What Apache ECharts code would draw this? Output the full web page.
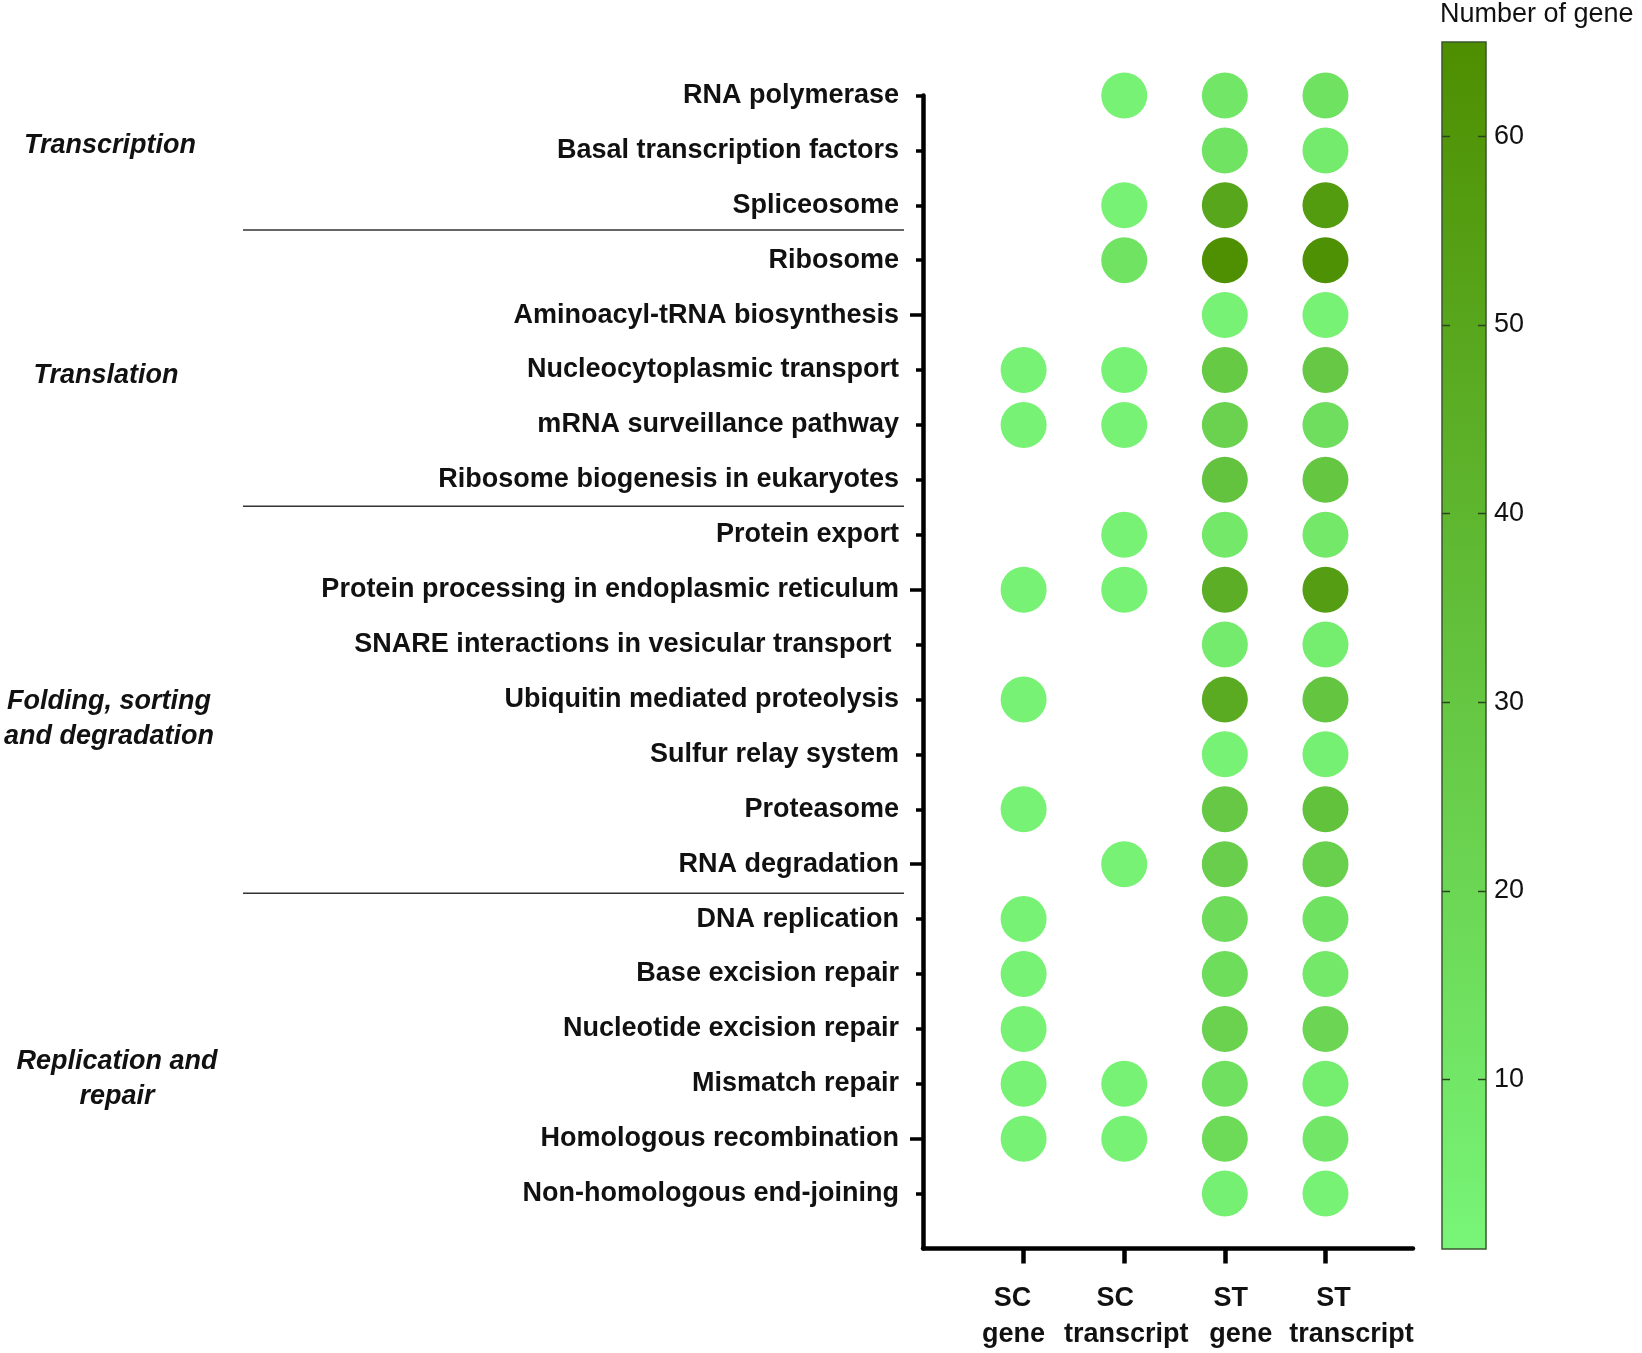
<!DOCTYPE html>
<html>
<head>
<meta charset="utf-8">
<script src="https://cdn.jsdelivr.net/npm/echarts@6.0.0/dist/echarts.min.js"></script>
<style>
  html, body { margin: 0; padding: 0; background: #ffffff; }
  #chart { width: 1642px; height: 1353px; }
</style>
</head>
<body>
<div id="chart"></div>
<script>
// ---------- data ----------
const categories = [
  'RNA polymerase',
  'Basal transcription factors',
  'Spliceosome',
  'Ribosome',
  'Aminoacyl-tRNA biosynthesis',
  'Nucleocytoplasmic transport',
  'mRNA surveillance pathway',
  'Ribosome biogenesis in eukaryotes',
  'Protein export',
  'Protein processing in endoplasmic reticulum',
  'SNARE interactions in vesicular transport ',
  'Ubiquitin mediated proteolysis',
  'Sulfur relay system',
  'Proteasome',
  'RNA degradation',
  'DNA replication',
  'Base excision repair',
  'Nucleotide excision repair',
  'Mismatch repair',
  'Homologous recombination',
  'Non-homologous end-joining'
];

const sampleTop = ['SC', 'SC', 'ST', 'ST'];
const sampleBottom = ['gene', 'transcript', 'gene', 'transcript'];

// number of genes per pathway (null = no dot)
const scGene       = [null, null, null, null, null, 3, 3, null, null, 3, null, 3, null, 3, null, 3, 3, 3, 3, 3, null];
const scTranscript = [3, null, 3, 12, null, 3, 3, null, 3, 3, null, null, null, null, 3, null, null, null, 3, 3, null];
const stGene       = [10, 12, 50, 64, 3, 28, 23, 32, 9, 45, 7, 47, 3, 29, 25, 17, 16, 23, 14, 18, 4];
const stTranscript = [13, 7, 57, 63, 3, 29, 15, 30, 9, 55, 6, 31, 4, 33, 24, 13, 9, 20, 6, 10, 3];

const groupLabels = [
  { text: 'Transcription', x: 110, y: 146 },
  { text: 'Translation', x: 106, y: 376 },
  { text: 'Folding, sorting\nand degradation', x: 109, y: 719 },
  { text: 'Replication and\nrepair', x: 117, y: 1079 }
];
const groupBreaks = [3.45, 8.48, 15.53];   // separator positions between row groups

const colorbarTicks = [10, 20, 30, 40, 50, 60];
const colorMin = 1, colorMax = 65;
const colorLow = '#78f578', colorHigh = '#4e8e00';

// ---------- build ----------
const seriesValues = [scGene, scTranscript, stGene, stTranscript];
const rowPositions = categories.map((_, i) => i + 1);
const majorRows = [5, 10, 15, 20];
const samplePositions = sampleTop.map((_, i) => i + 1);
// small horizontal nudges of the two label lines (as in the original figure)
const labelShift = [[-11, -10], [-9, 2], [6, 16], [8, 26]];

const FONT = "'Liberation Sans', Arial, Helvetica, sans-serif";
const CB_LEFT = 1442, CB_WIDTH = 44;

const series = seriesValues.map((vals, s) => ({
  type: 'scatter',
  name: sampleTop[s] + ' ' + sampleBottom[s],
  xAxisIndex: 0,
  yAxisIndex: 0,
  symbol: 'circle',
  symbolSize: 46,
  data: vals.map((v, r) => v == null ? null : [s + 1, r + 1, v]).filter(d => d),
  itemStyle: { opacity: 1 },
  emphasis: { disabled: true }
}));

const chart = echarts.init(document.getElementById('chart'), null, { renderer: 'canvas' });

const option = {
  backgroundColor: '#ffffff',
  animation: false,
  textStyle: { fontFamily: FONT },
  title: {
    text: 'Number of gene',
    left: 1440,
    top: 1,
    padding: 0,
    textStyle: { fontFamily: FONT, fontSize: 27, fontWeight: 'normal', color: '#111' }
  },
  grid: [
    { left: 923, top: 95.5, width: 490, height: 1153, containLabel: false },
    { left: CB_LEFT, top: 42, width: CB_WIDTH, height: 1207, containLabel: false }
  ],
  xAxis: [
    {
      gridIndex: 0, type: 'value', min: 0, max: 4.87, position: 'bottom',
      splitLine: { show: false },
      axisLine: { show: true, lineStyle: { color: '#000', width: 4.5 } },
      axisTick: { show: true, customValues: samplePositions, length: 15, lineStyle: { color: '#000', width: 4.5 } },
      axisLabel: { show: false }
    },
    {
      gridIndex: 1, type: 'value', min: 0, max: 1, position: 'bottom',
      splitLine: { show: false }, axisLine: { show: false }, axisTick: { show: false }, axisLabel: { show: false }
    }
  ],
  yAxis: [
    {
      gridIndex: 0, type: 'value', inverse: true, min: 1, max: 22, position: 'left',
      splitLine: { show: false },
      axisLine: { show: true, lineStyle: { color: '#000', width: 4.5 } },
      axisTick: { show: true, customValues: rowPositions, length: 7, lineStyle: { color: '#000', width: 3.5 } },
      axisLabel: {
        customValues: rowPositions,
        formatter: v => categories[Math.round(v) - 1] || '',
        fontFamily: FONT, fontSize: 27, fontWeight: 'bold', color: '#111', margin: 24
      }
    },
    {
      gridIndex: 0, type: 'value', inverse: true, min: 1, max: 22, position: 'left', offset: 0,
      splitLine: { show: false },
      axisLine: { show: false },
      axisTick: { show: true, customValues: majorRows, length: 13, lineStyle: { color: '#000', width: 3.5 } },
      axisLabel: { show: false }
    },
    {
      gridIndex: 1, type: 'value', min: colorMin, max: colorMax, position: 'right',
      splitLine: { show: false },
      axisLine: { show: false },
      axisTick: { show: false },
      axisLabel: {
        customValues: colorbarTicks,
        fontFamily: FONT, fontSize: 27, color: '#111', margin: 8
      }
    }
  ],
  visualMap: {
    type: 'continuous',
    show: false,
    min: colorMin,
    max: colorMax,
    dimension: 2,
    seriesIndex: [0, 1, 2, 3],
    inRange: { color: [colorLow, colorHigh] }
  },
  series: series
};

chart.setOption(option);

// colour bar, separators, group labels and sample labels
const graphics = [];
const cbTop = chart.convertToPixel({ yAxisIndex: 2 }, colorMax);
const cbBottom = chart.convertToPixel({ yAxisIndex: 2 }, colorMin);
const cbL = CB_LEFT, cbR = CB_LEFT + CB_WIDTH;
graphics.push({
  type: 'rect',
  z: 1,
  shape: { x: cbL, y: cbTop, width: CB_WIDTH, height: cbBottom - cbTop },
  style: {
    fill: new echarts.graphic.LinearGradient(0, 1, 0, 0, [
      { offset: 0, color: colorLow },
      { offset: 1, color: colorHigh }
    ]),
    stroke: '#3b5530',
    lineWidth: 1.5
  },
  silent: true
});
colorbarTicks.forEach(v => {
  const y = Math.round(chart.convertToPixel({ yAxisIndex: 2 }, v)) + 0.5;
  graphics.push({
    type: 'polyline', z: 5,
    shape: { points: [[cbL, y], [cbL + 8, y]] },
    style: { stroke: '#2a4420', lineWidth: 1.5 }, silent: true
  });
  graphics.push({
    type: 'polyline', z: 5,
    shape: { points: [[cbR - 8, y], [cbR, y]] },
    style: { stroke: '#2a4420', lineWidth: 1.5 }, silent: true
  });
});
groupBreaks.forEach(b => {
  const y = chart.convertToPixel({ yAxisIndex: 0 }, b);
  graphics.push({
    type: 'line',
    shape: { x1: 243, y1: y, x2: 904, y2: y },
    style: { stroke: '#333', lineWidth: 1.5 },
    silent: true
  });
});
groupLabels.forEach(g => {
  graphics.push({
    type: 'text',
    x: g.x,
    y: g.y,
    style: {
      text: g.text,
      font: 'italic bold 27px ' + FONT,
      fill: '#111',
      align: 'center',
      verticalAlign: 'middle',
      lineHeight: 35
    },
    silent: true
  });
});
samplePositions.forEach((p, i) => {
  const x = chart.convertToPixel({ xAxisIndex: 0 }, p);
  [[sampleTop[i], 1299, labelShift[i][0]], [sampleBottom[i], 1335, labelShift[i][1]]].forEach(([t, y, d]) => {
    graphics.push({
      type: 'text',
      x: x + d,
      y: y,
      style: {
        text: t,
        font: 'bold 27px ' + FONT,
        fill: '#111',
        align: 'center',
        verticalAlign: 'middle'
      },
      silent: true
    });
  });
});
chart.setOption({ graphic: graphics });
</script>
</body>
</html>
